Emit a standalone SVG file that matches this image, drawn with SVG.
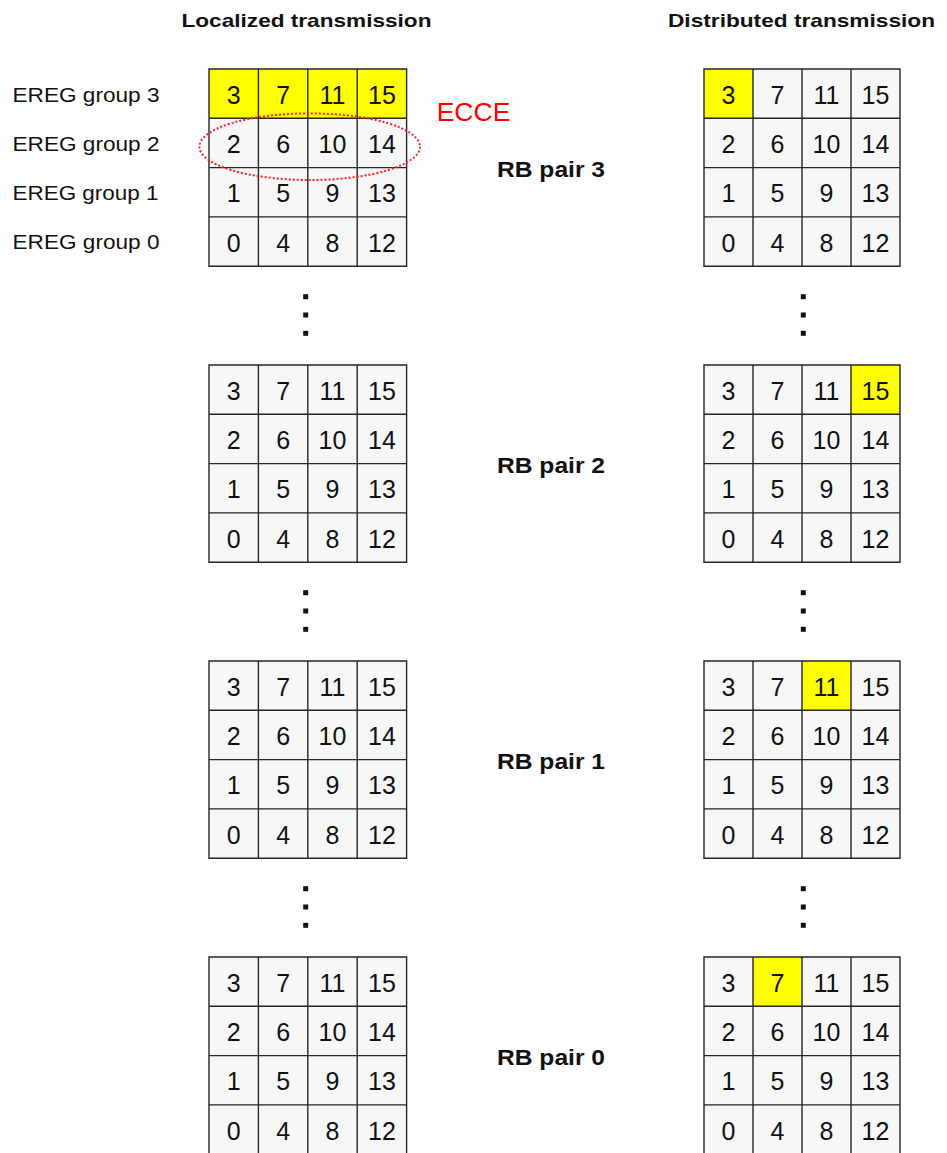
<svg xmlns="http://www.w3.org/2000/svg" xmlns:xlink="http://www.w3.org/1999/xlink" width="947" height="1153" viewBox="0 0 947 1153">
<style>
.bg{fill:#f7f7f7}
.hl{fill:#ffff00}
.gl{fill:none;stroke:#262626;stroke-width:1.4}
.n{font-family:"Liberation Sans",Arial,sans-serif;font-size:25px;fill:#111;text-anchor:middle}
.lbl{font-family:"Liberation Sans",Arial,sans-serif;font-size:20px;fill:#111}
.ttl{font-family:"Liberation Sans",Arial,sans-serif;font-size:19px;font-weight:bold;fill:#111}
.rb{font-family:"Liberation Sans",Arial,sans-serif;font-size:22px;font-weight:bold;fill:#111}
.dot{fill:#111}
</style>
<defs>
<path id="gridL" class="gl" d="M0 0H197.6V197.2H0Z M49.4 0V197.2 M98.8 0V197.2 M148.2 0V197.2 M0 49.3H197.6 M0 98.6H197.6 M0 147.9H197.6"/>
<path id="gridR" class="gl" d="M0 0H196V197.2H0Z M49 0V197.2 M98 0V197.2 M147 0V197.2 M0 49.3H196 M0 98.6H196 M0 147.9H196"/>
</defs>

<g id="titles">
<text class="ttl" x="181.5" y="26.5" textLength="250" lengthAdjust="spacingAndGlyphs">Localized transmission</text>
<text class="ttl" x="668" y="26.5" textLength="267" lengthAdjust="spacingAndGlyphs">Distributed transmission</text>
</g>

<g id="ereg-labels">
<text class="lbl" x="12.5" y="101.8" textLength="147" lengthAdjust="spacingAndGlyphs">EREG group 3</text>
<text class="lbl" x="12.5" y="151" textLength="147" lengthAdjust="spacingAndGlyphs">EREG group 2</text>
<text class="lbl" x="12.5" y="199.8" textLength="146" lengthAdjust="spacingAndGlyphs">EREG group 1</text>
<text class="lbl" x="12.5" y="248.8" textLength="147" lengthAdjust="spacingAndGlyphs">EREG group 0</text>
</g>

<!-- Left grids -->
<g id="L-rb3">
<rect class="bg" x="209" y="69" width="197.6" height="197.2"/>
<rect class="hl" x="209" y="69" width="197.6" height="49.3"/>
<use xlink:href="#gridL" href="#gridL" x="209" y="69"/>
<text class="n" x="233.7" y="103.8">3</text><text class="n" x="283.1" y="103.8">7</text><text class="n" x="332.5" y="103.8">11</text><text class="n" x="381.9" y="103.8">15</text>
<text class="n" x="233.7" y="153.1">2</text><text class="n" x="283.1" y="153.1">6</text><text class="n" x="332.5" y="153.1">10</text><text class="n" x="381.9" y="153.1">14</text>
<text class="n" x="233.7" y="202.4">1</text><text class="n" x="283.1" y="202.4">5</text><text class="n" x="332.5" y="202.4">9</text><text class="n" x="381.9" y="202.4">13</text>
<text class="n" x="233.7" y="251.7">0</text><text class="n" x="283.1" y="251.7">4</text><text class="n" x="332.5" y="251.7">8</text><text class="n" x="381.9" y="251.7">12</text>
</g>
<g id="L-rb2">
<rect class="bg" x="209" y="365" width="197.6" height="197.2"/>
<use xlink:href="#gridL" href="#gridL" x="209" y="365"/>
<text class="n" x="233.7" y="399.8">3</text><text class="n" x="283.1" y="399.8">7</text><text class="n" x="332.5" y="399.8">11</text><text class="n" x="381.9" y="399.8">15</text>
<text class="n" x="233.7" y="449.1">2</text><text class="n" x="283.1" y="449.1">6</text><text class="n" x="332.5" y="449.1">10</text><text class="n" x="381.9" y="449.1">14</text>
<text class="n" x="233.7" y="498.4">1</text><text class="n" x="283.1" y="498.4">5</text><text class="n" x="332.5" y="498.4">9</text><text class="n" x="381.9" y="498.4">13</text>
<text class="n" x="233.7" y="547.7">0</text><text class="n" x="283.1" y="547.7">4</text><text class="n" x="332.5" y="547.7">8</text><text class="n" x="381.9" y="547.7">12</text>
</g>
<g id="L-rb1">
<rect class="bg" x="209" y="661" width="197.6" height="197.2"/>
<use xlink:href="#gridL" href="#gridL" x="209" y="661"/>
<text class="n" x="233.7" y="695.8">3</text><text class="n" x="283.1" y="695.8">7</text><text class="n" x="332.5" y="695.8">11</text><text class="n" x="381.9" y="695.8">15</text>
<text class="n" x="233.7" y="745.1">2</text><text class="n" x="283.1" y="745.1">6</text><text class="n" x="332.5" y="745.1">10</text><text class="n" x="381.9" y="745.1">14</text>
<text class="n" x="233.7" y="794.4">1</text><text class="n" x="283.1" y="794.4">5</text><text class="n" x="332.5" y="794.4">9</text><text class="n" x="381.9" y="794.4">13</text>
<text class="n" x="233.7" y="843.7">0</text><text class="n" x="283.1" y="843.7">4</text><text class="n" x="332.5" y="843.7">8</text><text class="n" x="381.9" y="843.7">12</text>
</g>
<g id="L-rb0">
<rect class="bg" x="209" y="957" width="197.6" height="197.2"/>
<use xlink:href="#gridL" href="#gridL" x="209" y="957"/>
<text class="n" x="233.7" y="991.8">3</text><text class="n" x="283.1" y="991.8">7</text><text class="n" x="332.5" y="991.8">11</text><text class="n" x="381.9" y="991.8">15</text>
<text class="n" x="233.7" y="1041.1">2</text><text class="n" x="283.1" y="1041.1">6</text><text class="n" x="332.5" y="1041.1">10</text><text class="n" x="381.9" y="1041.1">14</text>
<text class="n" x="233.7" y="1090.4">1</text><text class="n" x="283.1" y="1090.4">5</text><text class="n" x="332.5" y="1090.4">9</text><text class="n" x="381.9" y="1090.4">13</text>
<text class="n" x="233.7" y="1139.7">0</text><text class="n" x="283.1" y="1139.7">4</text><text class="n" x="332.5" y="1139.7">8</text><text class="n" x="381.9" y="1139.7">12</text>
</g>

<!-- Right grids -->
<g id="R-rb3">
<rect class="bg" x="704" y="69" width="196" height="197.2"/>
<rect class="hl" x="704" y="69" width="49" height="49.3"/>
<use xlink:href="#gridR" href="#gridR" x="704" y="69"/>
<text class="n" x="728.5" y="103.8">3</text><text class="n" x="777.5" y="103.8">7</text><text class="n" x="826.5" y="103.8">11</text><text class="n" x="875.5" y="103.8">15</text>
<text class="n" x="728.5" y="153.1">2</text><text class="n" x="777.5" y="153.1">6</text><text class="n" x="826.5" y="153.1">10</text><text class="n" x="875.5" y="153.1">14</text>
<text class="n" x="728.5" y="202.4">1</text><text class="n" x="777.5" y="202.4">5</text><text class="n" x="826.5" y="202.4">9</text><text class="n" x="875.5" y="202.4">13</text>
<text class="n" x="728.5" y="251.7">0</text><text class="n" x="777.5" y="251.7">4</text><text class="n" x="826.5" y="251.7">8</text><text class="n" x="875.5" y="251.7">12</text>
</g>
<g id="R-rb2">
<rect class="bg" x="704" y="365" width="196" height="197.2"/>
<rect class="hl" x="851" y="365" width="49" height="49.3"/>
<use xlink:href="#gridR" href="#gridR" x="704" y="365"/>
<text class="n" x="728.5" y="399.8">3</text><text class="n" x="777.5" y="399.8">7</text><text class="n" x="826.5" y="399.8">11</text><text class="n" x="875.5" y="399.8">15</text>
<text class="n" x="728.5" y="449.1">2</text><text class="n" x="777.5" y="449.1">6</text><text class="n" x="826.5" y="449.1">10</text><text class="n" x="875.5" y="449.1">14</text>
<text class="n" x="728.5" y="498.4">1</text><text class="n" x="777.5" y="498.4">5</text><text class="n" x="826.5" y="498.4">9</text><text class="n" x="875.5" y="498.4">13</text>
<text class="n" x="728.5" y="547.7">0</text><text class="n" x="777.5" y="547.7">4</text><text class="n" x="826.5" y="547.7">8</text><text class="n" x="875.5" y="547.7">12</text>
</g>
<g id="R-rb1">
<rect class="bg" x="704" y="661" width="196" height="197.2"/>
<rect class="hl" x="802" y="661" width="49" height="49.3"/>
<use xlink:href="#gridR" href="#gridR" x="704" y="661"/>
<text class="n" x="728.5" y="695.8">3</text><text class="n" x="777.5" y="695.8">7</text><text class="n" x="826.5" y="695.8">11</text><text class="n" x="875.5" y="695.8">15</text>
<text class="n" x="728.5" y="745.1">2</text><text class="n" x="777.5" y="745.1">6</text><text class="n" x="826.5" y="745.1">10</text><text class="n" x="875.5" y="745.1">14</text>
<text class="n" x="728.5" y="794.4">1</text><text class="n" x="777.5" y="794.4">5</text><text class="n" x="826.5" y="794.4">9</text><text class="n" x="875.5" y="794.4">13</text>
<text class="n" x="728.5" y="843.7">0</text><text class="n" x="777.5" y="843.7">4</text><text class="n" x="826.5" y="843.7">8</text><text class="n" x="875.5" y="843.7">12</text>
</g>
<g id="R-rb0">
<rect class="bg" x="704" y="957" width="196" height="197.2"/>
<rect class="hl" x="753" y="957" width="49" height="49.3"/>
<use xlink:href="#gridR" href="#gridR" x="704" y="957"/>
<text class="n" x="728.5" y="991.8">3</text><text class="n" x="777.5" y="991.8">7</text><text class="n" x="826.5" y="991.8">11</text><text class="n" x="875.5" y="991.8">15</text>
<text class="n" x="728.5" y="1041.1">2</text><text class="n" x="777.5" y="1041.1">6</text><text class="n" x="826.5" y="1041.1">10</text><text class="n" x="875.5" y="1041.1">14</text>
<text class="n" x="728.5" y="1090.4">1</text><text class="n" x="777.5" y="1090.4">5</text><text class="n" x="826.5" y="1090.4">9</text><text class="n" x="875.5" y="1090.4">13</text>
<text class="n" x="728.5" y="1139.7">0</text><text class="n" x="777.5" y="1139.7">4</text><text class="n" x="826.5" y="1139.7">8</text><text class="n" x="875.5" y="1139.7">12</text>
</g>

<g id="rb-labels">
<text class="rb" x="497" y="177.3" textLength="108" lengthAdjust="spacingAndGlyphs">RB pair 3</text>
<text class="rb" x="497" y="473.3" textLength="108" lengthAdjust="spacingAndGlyphs">RB pair 2</text>
<text class="rb" x="497" y="769.3" textLength="108" lengthAdjust="spacingAndGlyphs">RB pair 1</text>
<text class="rb" x="497" y="1065.3" textLength="108" lengthAdjust="spacingAndGlyphs">RB pair 0</text>
</g>

<g id="ecce">
<ellipse cx="309.7" cy="146.7" rx="110.3" ry="33.3" fill="none" stroke="#ff2020" stroke-width="2" stroke-dasharray="2 2"/>
<text x="436.7" y="120.7" font-family="Liberation Sans, Arial, sans-serif" font-size="26.5" fill="#ff0000">ECCE</text>
</g>

<g id="ellipsis-dots">
<rect class="dot" x="303.2" y="294.2" width="5" height="5"/><rect class="dot" x="303.2" y="312.5" width="5" height="5"/><rect class="dot" x="303.2" y="330.8" width="5" height="5"/>
<rect class="dot" x="303.2" y="590.2" width="5" height="5"/><rect class="dot" x="303.2" y="608.5" width="5" height="5"/><rect class="dot" x="303.2" y="626.8" width="5" height="5"/>
<rect class="dot" x="303.2" y="886.2" width="5" height="5"/><rect class="dot" x="303.2" y="904.5" width="5" height="5"/><rect class="dot" x="303.2" y="922.8" width="5" height="5"/>
<rect class="dot" x="800.8" y="294.2" width="5" height="5"/><rect class="dot" x="800.8" y="312.5" width="5" height="5"/><rect class="dot" x="800.8" y="330.8" width="5" height="5"/>
<rect class="dot" x="800.8" y="590.2" width="5" height="5"/><rect class="dot" x="800.8" y="608.5" width="5" height="5"/><rect class="dot" x="800.8" y="626.8" width="5" height="5"/>
<rect class="dot" x="800.8" y="886.2" width="5" height="5"/><rect class="dot" x="800.8" y="904.5" width="5" height="5"/><rect class="dot" x="800.8" y="922.8" width="5" height="5"/>
</g>
</svg>
